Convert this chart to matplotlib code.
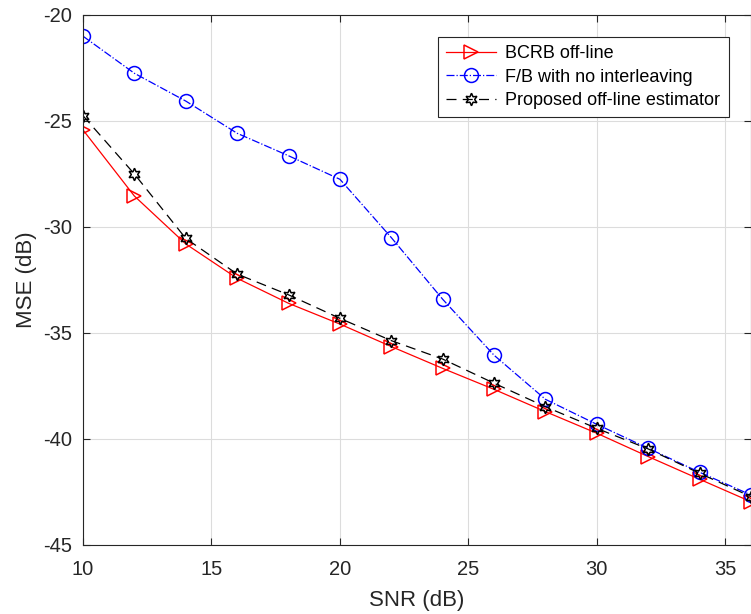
import numpy as np
import matplotlib.pyplot as plt

plt.rcParams['font.family'] = ['Liberation Sans', 'DejaVu Sans']
plt.rcParams['axes.unicode_minus'] = False

snr = [10, 12, 14, 16, 18, 20, 22, 24, 26, 28, 30, 32, 34, 36]
bcrb = [-25.42, -28.54, -30.8, -32.42, -33.6, -34.58, -35.64, -36.67,
        -37.66, -38.71, -39.73, -40.83, -41.9, -42.96]
fb_noint = [-21.0, -22.75, -24.06, -25.58, -26.64, -27.75, -30.5, -33.41,
            -36.05, -38.13, -39.31, -40.44, -41.57, -42.64]
proposed = [-24.75, -27.5, -30.54, -32.22, -33.2, -34.31, -35.36, -36.23,
            -37.37, -38.48, -39.5, -40.47, -41.62, -42.72]

fig = plt.figure(figsize=(7.51, 6.14), dpi=100)
ax = fig.add_axes([0.1105, 0.1124, 0.8895, 0.8632])

ax.plot(snr, bcrb, '-', color='red', lw=0.9, marker='>', ms=10,
        mfc='none', mew=1.1, label='BCRB off-line')
ax.plot(snr, fb_noint, '-.', color='blue', lw=0.9, marker='o', ms=10,
        mfc='none', mew=1.1, label='F/B with no interleaving')
ax.plot(snr, proposed, color='black', lw=0.9, dashes=(8, 5), marker=(6, 1, 0),
        ms=9, mfc='none', mew=1.1, label='Proposed off-line estimator')

ax.set_xlim(10, 36)
ax.set_ylim(-45, -20)
ax.set_xticks([10, 15, 20, 25, 30, 35])
ax.set_yticks([-45, -40, -35, -30, -25, -20])
ax.grid(True, color='#dcdcdc', lw=0.8)
ax.set_axisbelow(True)
ax.tick_params(direction='in', top=True, right=True, labelsize=14.5,
               colors='#262626', length=5)
ax.tick_params(axis='x', pad=11)
ax.tick_params(axis='y', pad=8)
for s in ax.spines.values():
    s.set_color('#262626')

ax.set_xlabel('SNR (dB)', fontsize=16, color='#262626', labelpad=8)
ax.set_ylabel('MSE (dB)', fontsize=16, color='#262626', labelpad=4)

leg = ax.legend(loc='upper right', bbox_to_anchor=(0.98, 0.975), fontsize=13,
                fancybox=False, edgecolor='#262626', framealpha=1,
                handlelength=2.8, borderpad=0.45, labelspacing=0.35,
                handletextpad=0.5)
leg.get_frame().set_linewidth(0.8)

fig.savefig('out.png', dpi=100)
